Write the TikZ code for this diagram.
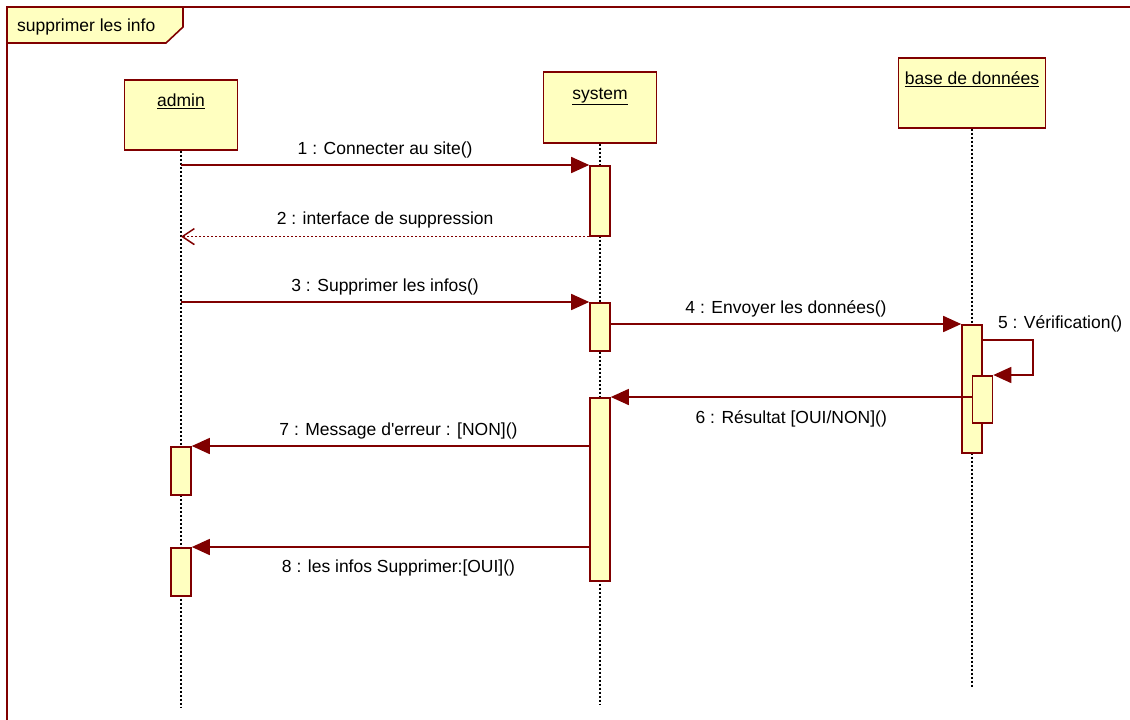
\documentclass[tikz,border=0pt]{standalone}
\usepackage{fontspec}
\setmainfont{Liberation Sans}
\usetikzlibrary{shapes,arrows.meta}
\definecolor{umlred}{RGB}{128,0,0}
\definecolor{umlfill}{RGB}{255,255,192}

\begin{document}
\begin{tikzpicture}[x=1pt,y=-1pt,
    font=\fontsize{17.5}{20}\selectfont,
    block_head/.style ={rectangle, draw=umlred, line width=1.6pt, fill=umlfill,
      minimum width=113pt, minimum height=70pt, inner sep=0pt,
      text height=27pt, text depth=43pt, anchor=north},
    block_act/.style ={rectangle, draw=umlred, line width=1.6pt, fill=umlfill,
      minimum width=20pt, inner sep=0pt, anchor=north},
    lifeline/.style ={draw=black, line width=1.4pt, dash pattern=on 2pt off 2pt},
    line/.style ={draw=umlred, line width=1.6pt,
      -{Triangle[length=18pt,width=16pt]}},
    line_return/.style ={draw=umlred, line width=1.6pt, dash pattern=on 2pt off 2pt,
      -{Straight Barb[length=12pt,width=16pt,line width=1.5pt]}}]
    \useasboundingbox (0,0) rectangle (1130,720);
    % frame with its name tab
    \draw [umlred, line width=1.6pt] (1130,7) -- (7,7) -- (7,720);
    \filldraw [draw=umlred, fill=umlfill, line width=1.6pt]
      (7,7) -- (183,7) -- (183,27) -- (166,43) -- (7,43) -- cycle;
    \node [anchor=west, inner sep=0pt] (frame_name) at (17,27) {supprimer les info};
    % heads of the lifelines
    \node [block_head] (admin) at (181,79) {\underline{admin}};
    \node [block_head, minimum height=71pt] (system) at (600,71) {\underline{system}};
    \node [block_head, minimum width=147pt] (bdd) at (972,57) {\underline{base de données}};
    \coordinate (admin_end) at (181,708);
    \coordinate (system_end) at (600,705);
    \coordinate (bdd_end) at (972,688);
    \path [lifeline] (admin.south) -- (admin_end);
    \path [lifeline] (system.south) -- (system_end);
    \path [lifeline] (bdd.south) -- (bdd_end);
    % activation bars
    \node [block_act, minimum height=70pt] (act_sys1) at (600,165) {};
    \node [block_act, minimum height=48pt] (act_sys2) at (600,302) {};
    \node [block_act, minimum height=183pt] (act_sys3) at (600,397) {};
    \node [block_act, minimum height=128pt] (act_bdd1) at (972,324) {};
    \node [block_act, minimum height=47pt] (act_bdd2) at (982.5,375) {};
    \node [block_act, minimum height=48pt] (act_adm1) at (181,446) {};
    \node [block_act, minimum height=48pt] (act_adm2) at (181,547) {};
    % messages
    \begin{scope}[every path/.style=line]
      \path (admin |- act_sys1.north) -- (act_sys1.north west)
        node [midway, above=3pt] (m1) {1 : Connecter au site()};
      \path [line_return] (act_sys1.south west) -- (admin |- act_sys1.south)
        node [midway, above=4pt] (m2) {2 : interface de suppression};
      \path (admin |- act_sys2.north) -- (act_sys2.north west)
        node [midway, above=3pt] (m3) {3 : Supprimer les infos()};
      \path (act_sys2.east |- act_bdd1.north) -- (act_bdd1.north west)
        node [midway, above=3pt] (m4) {4 : Envoyer les données()};
      \path (act_bdd1.north east) ++(0,16) -- ++(50,0) |- (act_bdd2.north east);
      \path (act_bdd2.west |- act_sys3.north) -- (act_sys3.north east)
        node [midway, below=9pt] (m6) {6 : Résultat [OUI/NON]()};
      \path (act_sys3.west |- act_adm1.north) -- (act_adm1.north east)
        node [midway, above=3pt, xshift=8pt] (m7) {7 : Message d\textquotesingle erreur : [NON]()};
      \path (act_sys3.west |- act_adm2.north) -- (act_adm2.north east)
        node [midway, below=9pt, xshift=8pt] (m8) {8 : les infos Supprimer:[OUI]()};
    \end{scope}
    \node [anchor=west, inner sep=0pt] (m5) at ([xshift=15pt]act_bdd1.north east)
      {5 : Vérification()};
  \end{tikzpicture}
\end{document}
